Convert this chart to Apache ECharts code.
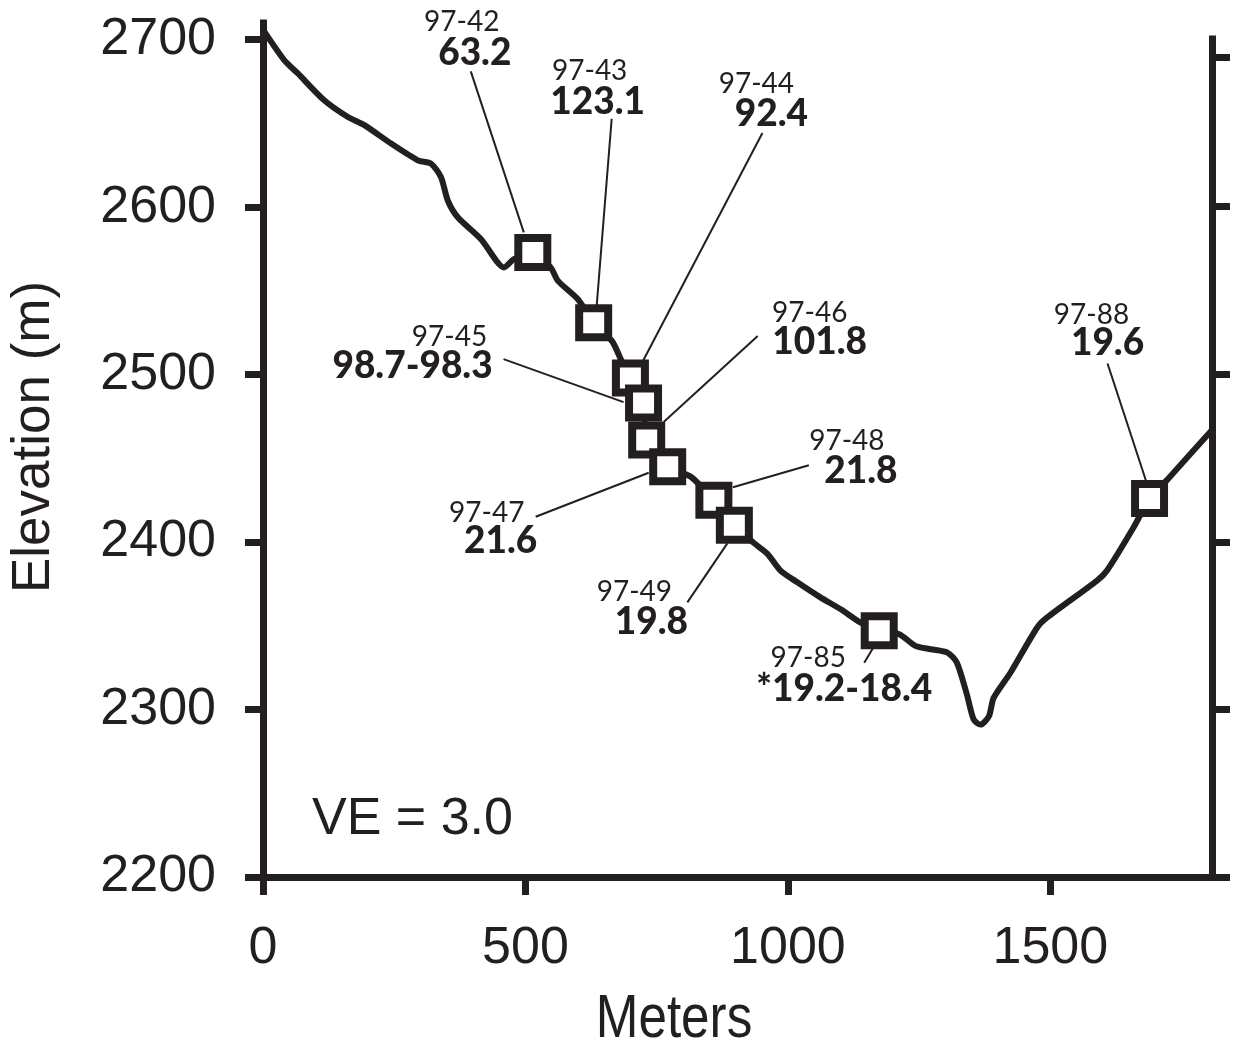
<!DOCTYPE html>
<html><head><meta charset="utf-8">
<script src="https://cdn.jsdelivr.net/npm/echarts@6/dist/echarts.min.js"></script>
<style>html,body{margin:0;padding:0;background:#fff}#c{width:1240px;height:1047px}</style>
</head><body><div id="c"></div>
<script>
// ---- data ----
const profileDist = [0,40,66,116,161,193,244,295,320,339,352,371,415,447,459,478,514,548,562,600,630,665,682,700,725,731,771,815,859,898,933,961,986,1018,1062,1100,1138,1174,1212,1243,1272,1304,1322,1341,1354,1367,1383,1392,1424,1475,1494,1589,1608,1659,1689,1722,1808];
const profileElev = [2706,2688,2680,2664,2654,2649,2638,2628,2626,2618,2604,2594,2581,2567,2564,2569,2573,2564,2556,2545,2531,2520,2509,2498,2483,2461,2445,2439,2425,2410,2400,2393,2383,2376,2367,2360,2352,2347,2345,2338,2336,2334,2328,2309,2294,2291,2296,2307,2322,2349,2355,2377,2383,2409,2426,2437,2467];

const sampleIds  = ['97-42','97-43','97-44','97-45','97-46','97-47','97-48','97-49','97-85','97-88'];
const sampleAges = ['63.2','123.1','92.4','98.7-98.3','101.8','21.6','21.8','19.8','*19.2-18.4','19.6'];
const sampleDist = [514,630,700,725,731,771,859,898,1174,1689];
const sampleElev = [2573,2531,2498,2483,2461,2445,2425,2410,2347,2426];

const xTickValues = [0,500,1000,1500];
const yTickValues = [2200,2300,2400,2500,2600,2700];
const rightTickValues = [2200,2300,2400,2500,2600,2689];

// ---- layout (pixel offsets of label pieces relative to each sample marker) ----
const labelLayout = [
  {id:[-71,-231], val:[-58,-200], far:[-62,-181], near:[-9,-20]},
  {id:[-4,-253],  val:[4,-222],   far:[18,-204],  near:[3,-17]},
  {id:[126,-295], val:[141,-265], far:[132,-245], near:[12,-16]},
  {id:[-194,-67], val:[-231,-38], far:[-140,-44], near:[-20,-1]},
  {id:[163,-128], val:[173,-99],  far:[111,-104], near:[17,-18]},
  {id:[-181,45],  val:[-167,73],  far:[-132,50],  near:[-19,6]},
  {id:[133,-60],  val:[147,-30],  far:[95,-35],   near:[19,-13]},
  {id:[-100,66],  val:[-83,96],   far:[-47,77],   near:[-7,18]},
  {id:[-71,26],   val:[-35,57],   far:[-15,32],   near:[-6,17]},
  {id:[-58,-185], val:[-42,-156], far:[-42,-135], near:[-1,-10]}
];

const INK = '#231f20';
const AXFONT = '"Liberation Sans", Arial, Helvetica, sans-serif';
const LBLFONT = 'Lato, "Open Sans", sans-serif';

const profile = profileDist.map((d,i)=>[d, profileElev[i]]);
const samples = sampleDist.map((d,i)=>[d, sampleElev[i]]);
const plain = v => String(v);

const chart = echarts.init(document.getElementById('c'), null, {renderer:'canvas'});
const axisLineStyle = {color:INK, width:7, cap:'square'};
chart.setOption({
  animation:false,
  backgroundColor:'#fff',
  grid:[
    {left:262, right:28, top:23, bottom:170},
    {left:262, right:28, top:39, bottom:170}
  ],
  xAxis:[
    {gridIndex:0, type:'value', min:0, max:1808,
     axisLine:{onZero:false, lineStyle:axisLineStyle},
     axisTick:{customValues:xTickValues, length:18, lineStyle:{color:INK, width:7}},
     axisLabel:{customValues:xTickValues, formatter:plain, margin:46, fontSize:52, fontFamily:AXFONT, color:INK},
     splitLine:{show:false}},
    {gridIndex:1, type:'value', min:0, max:1808, show:false}
  ],
  yAxis:[
    {gridIndex:0, type:'value', min:2200, max:2710,
     name:'Elevation (m)', nameLocation:'middle', nameGap:202,
     nameTextStyle:{fontSize:53, fontFamily:AXFONT, color:INK, padding:[0,0,0,26]},
     axisLine:{onZero:false, lineStyle:axisLineStyle},
     axisTick:{customValues:yTickValues, length:18, lineStyle:{color:INK, width:7}},
     axisLabel:{customValues:yTickValues, formatter:plain, margin:47, fontSize:52, fontFamily:AXFONT, color:INK},
     splitLine:{show:false}},
    {gridIndex:1, type:'value', min:2200, max:2700, position:'right',
     axisLine:{onZero:false, lineStyle:axisLineStyle},
     axisTick:{customValues:rightTickValues, length:18, lineStyle:{color:INK, width:7}},
     axisLabel:{show:false},
     splitLine:{show:false}}
  ],
  graphic:[
    {type:'text', x:674, y:1020, scaleX:0.84,
     style:{text:'Meters', fontSize:61, fontFamily:AXFONT, fill:INK, align:'center', verticalAlign:'middle'}},
    {type:'text', x:312, y:820,
     style:{text:'VE = 3.0', fontSize:52, fontFamily:AXFONT, fill:INK, align:'left', verticalAlign:'middle'}}
  ],
  series:[
    {type:'line', xAxisIndex:0, yAxisIndex:0, data:profile, showSymbol:false, smooth:0.25,
     lineStyle:{color:INK, width:6}, z:1},
    {type:'custom', xAxisIndex:0, yAxisIndex:0, data:samples, z:2,
     renderItem:function(params, api){
       const p = api.coord([api.value(0), api.value(1)]);
       const i = params.dataIndex;
       const L = labelLayout[i];
       return {type:'group', children:[
         {type:'line', shape:{x1:p[0]+L.far[0], y1:p[1]+L.far[1], x2:p[0]+L.near[0], y2:p[1]+L.near[1]},
          style:{stroke:INK, lineWidth:2}},
         {type:'text', x:p[0]+L.id[0], y:p[1]+L.id[1]+1,
          style:{text:sampleIds[i], fontSize:28, fontFamily:LBLFONT, fill:INK, align:'center', verticalAlign:'middle'}},
         {type:'text', x:p[0]+L.val[0], y:p[1]+L.val[1]+1,
          style:{text:sampleAges[i], fontSize:37, fontWeight:900, fontFamily:LBLFONT, fill:INK, align:'center', verticalAlign:'middle'}}
       ]};
     }},
    {type:'scatter', xAxisIndex:0, yAxisIndex:0, data:samples, symbol:'rect', symbolSize:29,
     itemStyle:{color:'#fff', borderColor:INK, borderWidth:8, opacity:1}, z:5}
  ]
});
</script></body></html>
